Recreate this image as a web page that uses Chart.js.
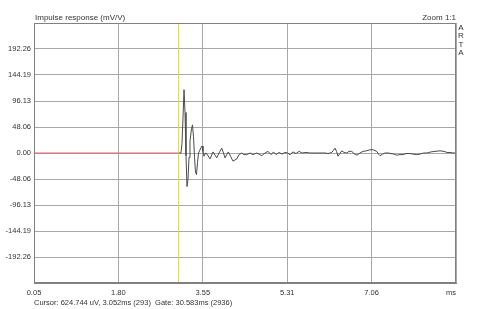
<!DOCTYPE html>
<html>
<head>
<meta charset="utf-8">
<script src="https://cdn.jsdelivr.net/npm/chart.js@4"></script>
<style>
  html, body { margin: 0; padding: 0; background: #fff; }
  #wrap { width: 480px; height: 309px; }
</style>
</head>
<body>
<div id="wrap"><canvas id="impulse" width="480" height="309"></canvas></div>
<script>
// time axis (ms) and impulse response values (mV/V)
const timeMs = [
  3.052, 3.102, 3.123, 3.144, 3.165, 3.186, 3.206, 3.227, 3.248, 3.269,
  3.289, 3.321, 3.341, 3.362, 3.383, 3.403, 3.424, 3.445, 3.466, 3.487,
  3.518, 3.539, 3.559, 3.580, 3.611, 3.642, 3.705, 3.767, 3.844, 3.892,
  3.948, 3.985, 4.016, 4.058, 4.085, 4.131, 4.182, 4.259, 4.307, 4.363,
  4.411, 4.467, 4.535, 4.598, 4.674, 4.722, 4.778, 4.847, 4.909, 4.971,
  5.023, 5.075, 5.138, 5.200, 5.262, 5.314, 5.366, 5.428, 5.491, 5.553,
  5.615, 5.698, 5.781, 5.885, 5.989, 6.093, 6.155, 6.232, 6.270, 6.301,
  6.332, 6.363, 6.395, 6.440, 6.488, 6.544, 6.591, 6.648, 6.695, 6.757,
  6.819, 6.882, 6.955, 7.027, 7.090, 7.167, 7.204, 7.235, 7.287, 7.339,
  7.401, 7.463, 7.526, 7.582, 7.650, 7.712, 7.775, 7.858, 7.920, 7.997,
  8.065, 8.138, 8.211, 8.294, 8.377, 8.481, 8.564, 8.626, 8.688, 8.751,
  8.813
];
const response = [
  0, 0, 18, 65, 117, 75, -5, -62, -48, -8,
  22, 45, 52, 30, -8, -35, -40, -18, 0, 4,
  10, 13, 3, -6, 0, -2, -11, 2, -9, 0,
  9, 0, -9, -2, 2, -6, -15, -11, -3, 0,
  -3, -3, 0, -3, 0, -2, -5, 0, 3, -3,
  2, -3, 1, -2, 1, 0, -3, 2, -1, 3,
  0, 1, 0, 0, 0, 0, -1, 1, 5, 9,
  3, -6, -2, 4, 1, 0, 3, 3, -1, -4,
  0, 3, 4, 6, 6, 3, -2, -5, -2, 0,
  0, -1, -2, -4, -3, -3, -1, -1, -2, -3,
  -2, 0, 0, 2, 3, 4, 3, 1, 1, 0,
  0
];

const cursorMs = 3.052;
const xTicks = [0.05, 1.8025, 3.555, 5.3075, 7.06, 8.8125];
const xTickLabels = ['0.05', '1.80', '3.55', '5.31', '7.06', ''];
const yTicks = [-240.325, -192.26, -144.195, -96.13, -48.065, 0, 48.065, 96.13, 144.195, 192.26, 240.325];
const yTickLabels = ['', '-192.26', '-144.19', '-96.13', '-48.06', '0.00', '48.06', '96.13', '144.19', '192.26', ''];

const FONT = 'Liberation Sans';

const signal = timeMs.map((t, i) => ({ x: t, y: response[i] }));

// texts round the plot + darker frame
const frameAndText = {
  id: 'frameAndText',
  afterDraw(chart) {
    const { ctx, chartArea: a } = chart;
    ctx.save();
    ctx.strokeStyle = '#808080';
    ctx.lineWidth = 1;
    ctx.strokeRect(Math.round(a.left) + 0.5, Math.round(a.top) + 0.5,
      Math.round(a.right - a.left) - 1, Math.round(a.bottom - a.top) - 1);

    ctx.fillStyle = '#333';
    ctx.textBaseline = 'alphabetic';
    ctx.font = '8px "' + FONT + '"';
    ctx.textAlign = 'left';
    ctx.fillText('Impulse response (mV/V)', a.left + 1, 20);
    ctx.textAlign = 'right';
    ctx.fillText('Zoom 1:1', a.right, 20);

    ctx.font = '7.5px "' + FONT + '"';
    ctx.textAlign = 'right';
    ctx.fillText('ms', a.right, 294.5);
    ctx.textAlign = 'left';
    ctx.fillText('Cursor: 624.744 uV, 3.052ms (293)  Gate: 30.583ms (2936)', a.left, 305);

    ctx.font = '8px "' + FONT + '"';
    ctx.textAlign = 'center';
    ['A', 'R', 'T', 'A'].forEach((c, i) => ctx.fillText(c, a.right + 5, 30 + i * 8.3));
    ctx.restore();
  }
};

const config = {
  type: 'line',
  data: {
    datasets: [
      {
        // pre-cursor part on the zero line
        data: [{ x: xTicks[0], y: 0 }, { x: cursorMs, y: 0 }],
        borderColor: '#e86060',
        borderWidth: 1,
        pointRadius: 0
      },
      {
        // cursor
        data: [{ x: cursorMs, y: yTicks[0] }, { x: cursorMs, y: yTicks[yTicks.length - 1] }],
        borderColor: '#e0e020',
        borderWidth: 1,
        pointRadius: 0
      },
      {
        data: signal,
        borderColor: '#4a4a4a',
        borderWidth: 1,
        pointRadius: 0,
        tension: 0
      }
    ]
  },
  plugins: [frameAndText],
  options: {
    responsive: false,
    animation: false,
    parsing: true,
    layout: { padding: { left: 0, right: 24, top: 23, bottom: 0 } },
    plugins: {
      legend: { display: false },
      tooltip: { enabled: false }
    },
    scales: {
      x: {
        type: 'linear',
        min: xTicks[0],
        max: xTicks[xTicks.length - 1],
        afterBuildTicks: s => { s.ticks = xTicks.map(v => ({ value: v })); },
        afterFit: s => { s.height = 26; },
        grid: { color: '#a8a8a8', drawTicks: false },
        border: { color: '#808080' },
        ticks: {
          color: '#333',
          font: { family: FONT, size: 7.5 },
          padding: 5,
          maxRotation: 0,
          autoSkip: false,
          callback: (v, i) => xTickLabels[i]
        }
      },
      y: {
        min: yTicks[0],
        max: yTicks[yTicks.length - 1],
        afterBuildTicks: s => { s.ticks = yTicks.map(v => ({ value: v })); },
        afterFit: s => { s.width = 34; },
        grid: { color: '#a8a8a8', drawTicks: false },
        border: { color: '#808080' },
        ticks: {
          color: '#333',
          font: { family: FONT, size: 7.5 },
          padding: 3,
          autoSkip: false,
          callback: (v, i) => yTickLabels[i]
        }
      }
    }
  }
};

const impulseChart = new Chart(document.getElementById('impulse'), config);
</script>
</body>
</html>
